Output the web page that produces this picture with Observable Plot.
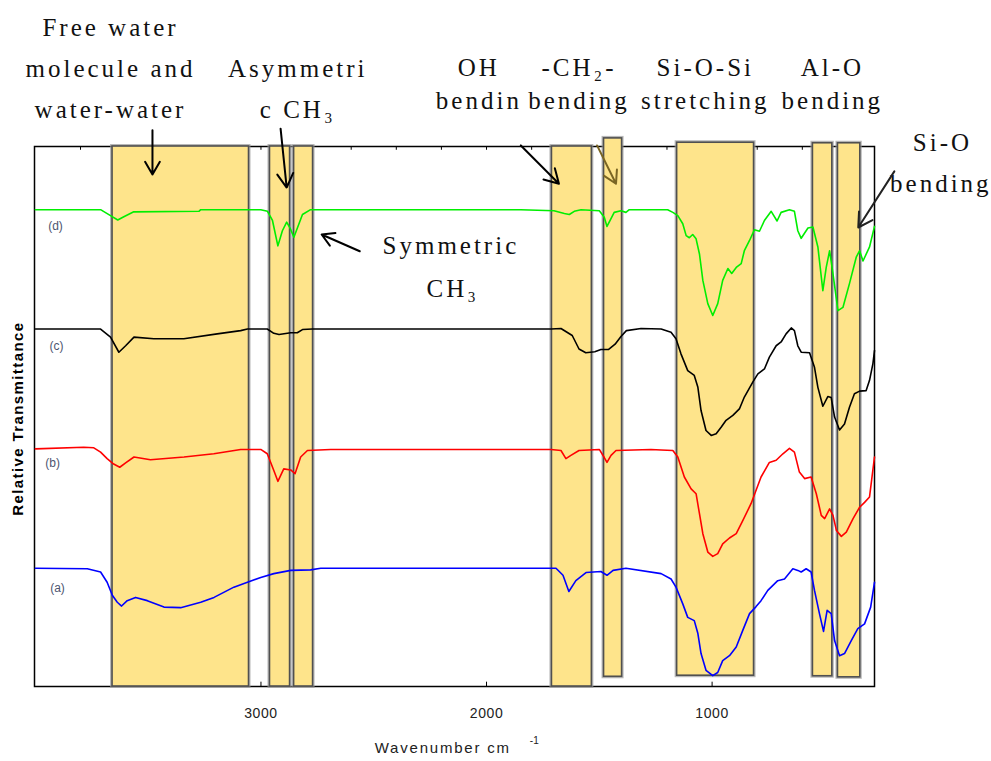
<!DOCTYPE html>
<html><head><meta charset="utf-8">
<script src="https://cdn.jsdelivr.net/npm/d3@7"></script>
<script src="https://cdn.jsdelivr.net/npm/@observablehq/plot@0.6"></script>
<style>
body{margin:0;background:#fff;overflow:hidden;}
#chart svg{display:block;}
[aria-description="annot"] text{letter-spacing:3px;}
[aria-description="xlabel"] text{letter-spacing:1.8px;}
[aria-description="ylabel"] text{letter-spacing:1.4px;}
[aria-description="ticklabel"] text{letter-spacing:0.6px;}
</style></head><body><div id="chart"></div>
<script>
// FTIR spectra: [wavenumber cm-1, relative transmittance (offset, a.u.)]
const specD = [[4000,88.3],[3711,88.3],[3667,87.2],[3635,86.4],[3608,87.0],[3564,87.9],[3275,88.0],[3267,88.3],[3001,88.3],[2971,88.0],[2949,86.3],[2925,81.6],[2905,84.4],[2886,86.0],[2871,84.9],[2854,83.2],[2834,85.4],[2816,87.4],[2780,88.3],[1848,88.3],[1701,88.1],[1655,87.6],[1633,87.4],[1611,88.0],[1581,88.3],[1500,88.1],[1478,86.9],[1466,85.2],[1451,86.4],[1434,87.8],[1404,88.1],[1382,87.8],[1367,88.3],[1226,88.3],[1197,88.3],[1174,87.8],[1152,87.2],[1130,85.7],[1115,83.5],[1101,83.1],[1086,83.7],[1071,82.9],[1056,80.1],[1041,75.2],[1019,70.9],[997,68.7],[975,70.9],[953,75.2],[930,77.4],[913,76.5],[893,77.6],[871,78.3],[857,80.7],[834,82.6],[812,84.6],[790,84.3],[768,86.3],[738,88.0],[712,86.2],[694,87.8],[657,88.3],[635,88.0],[620,84.4],[605,83.0],[575,84.9],[553,85.1],[531,81.4],[509,73.3],[494,77.6],[479,80.7],[464,76.4],[442,69.6],[420,70.2],[391,74.6],[361,79.5],[346,80.7],[331,78.8],[302,81.4],[280,85.2]];
const specC = [[4000,66.2],[3711,66.2],[3667,64.7],[3630,61.9],[3600,63.1],[3563,64.7],[3475,64.4],[3342,64.4],[3194,65.3],[3090,65.9],[3060,66.2],[2972,66.2],[2943,65.4],[2920,65.2],[2868,65.5],[2839,65.5],[2816,66.1],[2772,66.2],[1714,66.2],[1670,66.3],[1620,65.0],[1590,62.5],[1560,61.8],[1520,62.0],[1493,62.4],[1460,62.4],[1430,63.4],[1404,64.8],[1380,65.9],[1315,66.3],[1226,66.2],[1182,65.6],[1160,64.4],[1138,61.6],[1108,58.5],[1079,57.6],[1063,55.4],[1049,51.1],[1027,47.4],[1004,46.5],[982,46.8],[960,48.0],[938,49.3],[908,50.2],[879,51.4],[857,53.6],[819,56.4],[797,57.9],[768,58.8],[746,61.0],[716,63.1],[694,63.8],[672,65.3],[649,66.4],[635,65.9],[620,63.1],[605,61.9],[568,61.8],[546,59.1],[531,55.4],[509,51.9],[487,53.7],[472,53.5],[457,49.9],[435,47.5],[413,48.6],[391,51.7],[369,54.2],[346,54.7],[317,54.8],[302,56.7],[287,59.8],[280,62.2]];
const specB = [[4000,44.0],[3786,44.3],[3741,44.2],[3711,43.4],[3682,42.2],[3653,41.2],[3626,40.6],[3600,41.4],[3563,42.5],[3490,42.0],[3341,42.5],[3209,43.1],[3090,43.9],[3001,43.9],[2972,43.1],[2943,40.0],[2925,38.0],[2899,40.3],[2868,40.1],[2849,39.4],[2824,42.5],[2794,43.7],[2691,43.9],[1714,43.9],[1670,43.7],[1648,42.2],[1626,42.8],[1590,43.7],[1500,43.9],[1478,42.4],[1466,41.5],[1448,42.8],[1426,43.7],[1271,43.9],[1226,43.8],[1174,43.7],[1152,42.5],[1123,38.8],[1093,36.6],[1071,35.7],[1056,32.0],[1041,28.3],[1019,24.9],[997,24.1],[975,24.6],[953,26.4],[923,27.5],[893,28.3],[864,30.7],[827,33.9],[783,38.8],[746,41.5],[716,41.9],[686,43.1],[657,44.1],[635,43.4],[613,39.7],[590,38.5],[561,38.8],[538,35.7],[516,31.7],[501,31.1],[479,32.9],[464,31.7],[449,28.9],[427,27.8],[405,28.6],[375,31.1],[346,33.2],[324,34.1],[302,35.1],[280,42.5]];
const specA = [[4000,21.9],[3770,21.8],[3711,21.2],[3682,19.3],[3659,16.9],[3637,15.6],[3618,14.9],[3593,15.9],[3556,16.5],[3504,15.9],[3430,14.7],[3356,14.6],[3267,15.6],[3208,16.5],[3120,18.4],[3060,19.3],[3001,20.2],[2943,20.9],[2868,21.5],[2780,21.6],[2735,21.9],[1692,21.9],[1661,20.6],[1635,17.6],[1604,19.6],[1559,21.1],[1493,21.3],[1466,20.6],[1439,21.5],[1382,21.9],[1226,20.9],[1182,19.9],[1160,18.4],[1130,15.3],[1108,12.8],[1079,12.2],[1063,9.8],[1049,6.1],[1027,3.0],[997,2.0],[975,2.6],[953,4.8],[923,5.7],[893,7.3],[864,10.4],[834,13.5],[805,14.8],[783,15.9],[753,17.8],[709,19.6],[679,19.9],[642,21.8],[620,21.5],[605,21.2],[583,21.8],[561,21.2],[546,17.8],[524,13.5],[506,10.2],[490,14.1],[472,13.5],[457,8.5],[435,5.7],[413,6.1],[383,8.5],[354,10.7],[324,11.6],[297,14.7],[280,19.3]];

const seriesNames = ["(d)", "(c)", "(b)", "(a)"];
const seriesColors = ["#00ee00", "#000000", "#ff0000", "#0000ff"];
const seriesLabelX = [3911, 3907, 3924, 3902];
const seriesLabelY = [85.2, 63.1, 41.3, 18.3];

// Highlighted bands (wavenumber ranges)
const bandFrom = [3658, 2960, 2853, 1710, 1479, 1155, 553, 442];
const bandTo = [3053, 2871, 2769, 1533, 1399, 814, 467, 343];
const bandTop = [100, 100, 100, 100, 101.5, 100.7, 100.6, 100.6];
const bandBottom = [0, 0, 0, 0, 1.8, 2.0, 1.9, 1.7];

// Annotation texts
const annotText = ["Free water","molecule and","water-water","Asymmetri","c CH\u2083","OH","bendin","-CH\u2082-","bending","Si-O-Si","stretching","Al-O","bending","Si-O","bending","Symmetric","CH\u2083"];
const annotX = [3667,3667,3667,2837,2837,2034,2034,1590,1590,1030,1030,467,467,-21,-14,2158,2150];
const annotY = [122.0,114.3,106.7,114.3,106.7,114.6,108.5,114.6,108.5,114.6,108.5,114.6,108.5,100.7,93.0,81.5,73.7];

// Arrows
const arrowX1 = [3481, 2913, 2562, 1848, 1510, 192];
const arrowY1 = [103.0, 103.3, 80.6, 100.2, 100.2, 95.4];
const arrowX2 = [3481, 2886, 2731, 1679, 1426, 352];
const arrowY2 = [94.8, 92.4, 83.7, 93.1, 93.1, 85.0];
const arrowColors = ["#000", "#000", "#000", "#000", "#7a6524", "#222"];

const xTickLabels = [3000, 2000, 1000];
const topTicks = [3800,3600,3400,3200,3000,2800,2600,2400,2200,2000,1800,1600,1400,1200,1000,800,600,400];

const spectra = [specD, specC, specB, specA];
const lineData = spectra.flatMap((s, i) => s.map(([w, t]) => ({w, t, s: seriesNames[i]})));
const bands = bandFrom.map((f, i) => ({x1: f, x2: bandTo[i], y1: bandBottom[i], y2: bandTop[i]}));
const annots = annotText.map((t, i) => ({t, x: annotX[i], y: annotY[i]}));
const arrows = arrowX1.map((x1, i) => ({x1, y1: arrowY1[i], x2: arrowX2[i], y2: arrowY2[i], c: arrowColors[i]}));
const labels = seriesNames.map((n, i) => ({n, x: seriesLabelX[i], y: seriesLabelY[i]}));

function headMarker(color) {
  const m = d3.create("svg:marker")
    .attr("viewBox", "0 -5 10 10")
    .attr("refX", 9)
    .attr("refY", 0)
    .attr("markerUnits", "userSpaceOnUse")
    .attr("markerWidth", 15)
    .attr("markerHeight", 14)
    .attr("orient", "auto")
    .attr("fill", color)
    .attr("stroke", "none");
  m.append("path").attr("d", "M0,-4.6L10,0L0,4.6Z");
  return m;
}

function build(useCustom) {
  const arrowMarks = arrows.map(a => useCustom
    ? Plot.link([a], {x1: "x1", y1: "y1", x2: "x2", y2: "y2", stroke: a.c, strokeWidth: 2, markerEnd: headMarker})
    : Plot.arrow([a], {x1: "x1", y1: "y1", x2: "x2", y2: "y2", stroke: a.c, strokeWidth: 2, headLength: 12}));
  return Plot.plot({
    width: 991,
    height: 761,
    marginLeft: 34,
    marginRight: 117,
    marginTop: 146,
    marginBottom: 75,
    style: {fontFamily: "'Liberation Sans', Arial, sans-serif", fontSize: "14px", color: "#222", background: "#fff", overflow: "visible"},
    x: {domain: [4004, 280], axis: null},
    y: {domain: [0, 100], axis: null},
    color: {domain: seriesNames, range: seriesColors},
    marks: [
      Plot.frame({stroke: "#000", strokeWidth: 1.5}),
      Plot.ruleX(topTicks, {x: d => d, y1: 100, y2: 99.3, stroke: "#000", strokeWidth: 1}),
      Plot.ruleX(xTickLabels, {x: d => d, y1: 0, y2: 0.8, stroke: "#000", strokeWidth: 1}),
      Plot.text(xTickLabels, {x: d => d, y: -5.0, text: d => String(d), fontSize: 14, fill: "#222", ariaDescription: "ticklabel"}),
      Plot.rect(bands, {x1: "x1", x2: "x2", y1: "y1", y2: "y2", fill: "none", stroke: "#9a9a9a", strokeWidth: 4, strokeOpacity: 0.7}),
      Plot.rect(bands, {x1: "x1", x2: "x2", y1: "y1", y2: "y2", fill: "#fee48b", stroke: "#505050", strokeWidth: 1.6}),
      Plot.line(lineData, {x: "w", y: "t", z: "s", stroke: "s", strokeWidth: 1.6}),
      Plot.text(labels, {x: "x", y: "y", text: "n", fill: "#4d5570", fontSize: 12}),
      Plot.text(annots, {x: "x", y: "y", text: "t", fontFamily: "'Liberation Serif', 'Times New Roman', serif", fontSize: 25, fill: "#111", ariaDescription: "annot"}),
      Plot.text(["Relative Transmittance"], {x: 4075, y: 49.6, text: d => d, rotate: -90, fontWeight: "bold", fontSize: 15, fill: "#000", ariaDescription: "ylabel"}),
      Plot.text(["Wavenumber cm"], {x: 2194, y: -11.5, text: d => d, fontSize: 15, fill: "#222", ariaDescription: "xlabel"}),
      Plot.text(["-1"], {x: 1808, y: -10.0, text: d => d, fontSize: 10, fill: "#222", textAnchor: "start"}),
      ...arrowMarks
    ]
  });
}

let chart;
try { chart = build(true); } catch (e) { chart = build(false); }
document.getElementById("chart").append(chart);
</script>
</body></html>
